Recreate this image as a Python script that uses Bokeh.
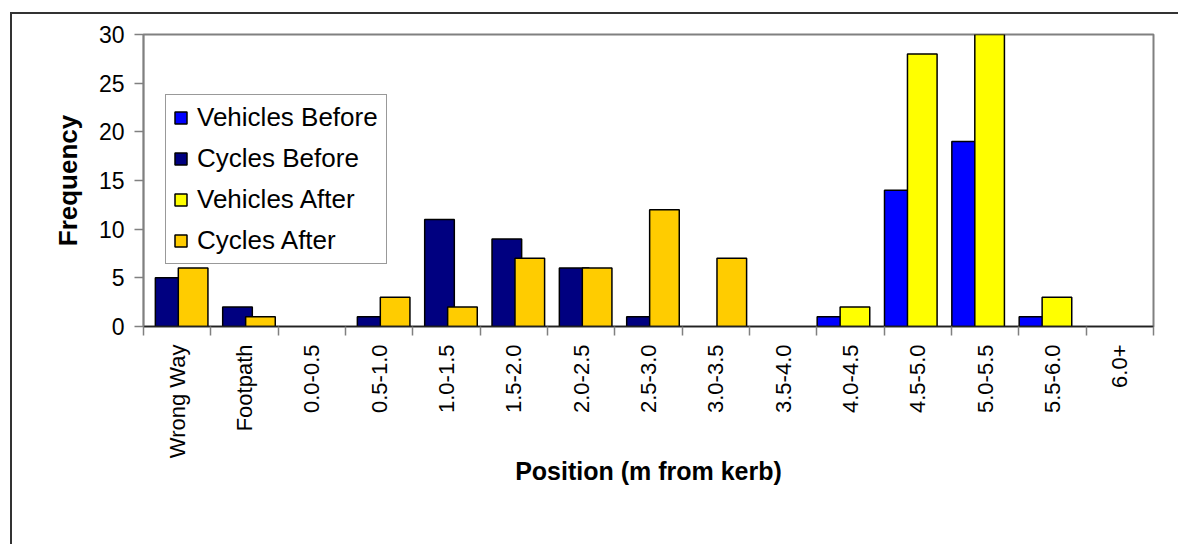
from bokeh.plotting import figure
from bokeh.models import (ColumnDataSource, Range1d, FixedTicker, Legend, LegendItem,
                          CDSView, BooleanFilter)
from bokeh.transform import dodge
from bokeh.embed import file_html
from bokeh.resources import INLINE
import math

categories = ["Wrong Way", "Footpath", "0.0-0.5", "0.5-1.0", "1.0-1.5", "1.5-2.0", "2.0-2.5",
              "2.5-3.0", "3.0-3.5", "3.5-4.0", "4.0-4.5", "4.5-5.0", "5.0-5.5", "5.5-6.0", "6.0+"]
vehicles_before = [0, 0, 0, 0, 0, 0, 0, 0, 0, 0, 1, 14, 19, 1, 0]
cycles_before = [5, 2, 0, 1, 11, 9, 6, 1, 0, 0, 0, 0, 0, 0, 0]
vehicles_after = [0, 0, 0, 0, 0, 0, 0, 0, 0, 0, 2, 28, 30, 3, 0]
cycles_after = [6, 1, 0, 3, 2, 7, 6, 12, 7, 0, 0, 0, 0, 0, 0]

series = [
    ("Vehicles Before", vehicles_before, "#0000FF", -0.275, "vb"),
    ("Cycles Before", cycles_before, "#000080", -0.104, "cb"),
    ("Vehicles After", vehicles_after, "#FFFF00", 0.066, "va"),
    ("Cycles After", cycles_after, "#FFCC00", 0.237, "ca"),
]

src = ColumnDataSource(dict(
    x=list(range(len(categories))),
    vb=vehicles_before, cb=cycles_before, va=vehicles_after, ca=cycles_after,
))

FONT = "Liberation Sans"

p = figure(width=1168, height=532, output_backend="svg", toolbar_location=None,
           x_range=Range1d(-0.5, len(categories) - 0.5), y_range=Range1d(0, 30),
           min_border_left=131, min_border_right=27, min_border_top=20, min_border_bottom=220)
# outer chart border: left and top edges
p.styles = {"border-left": "2px solid #333333", "border-top": "2px solid #333333",
            "margin-left": "10px", "margin-top": "12px"}

p.xgrid.visible = False
p.ygrid.visible = False
p.outline_line_color = "#808080"
p.outline_line_width = 2
p.background_fill_color = "white"
p.border_fill_color = "white"

renderers = []
for name, vals, color, off, col in series:
    view = CDSView(filter=BooleanFilter([v > 0 for v in vals]))
    r = p.vbar(x=dodge("x", off), top=col, width=0.44, bottom=0, source=src, view=view,
               fill_color=color, line_color="black", line_width=1.5)
    renderers.append((name, r))

# x axis
xa = p.xaxis[0]
xa.ticker = FixedTicker(ticks=list(range(len(categories))),
                        minor_ticks=[i - 0.5 for i in range(len(categories) + 1)])
xa.major_label_overrides = {i: c for i, c in enumerate(categories)}
xa.major_tick_in = 0
xa.major_tick_out = 0
xa.minor_tick_in = 0
xa.minor_tick_out = 9
xa.minor_tick_line_color = "#808080"
xa.minor_tick_line_width = 1.5
xa.axis_line_color = "#222222"
xa.axis_line_width = 1.5
xa.major_label_orientation = math.pi / 2
xa.major_label_text_font = FONT
xa.major_label_text_font_size = "22px"
xa.major_label_text_color = "black"
xa.major_label_standoff = 9
xa.axis_label = "Position (m from kerb)"
xa.axis_label_text_font = FONT
xa.axis_label_text_font_style = "bold"
xa.axis_label_text_font_size = "25px"
xa.axis_label_text_color = "black"
xa.axis_label_standoff = -4

# y axis
ya = p.yaxis[0]
ya.ticker = FixedTicker(ticks=[0, 5, 10, 15, 20, 25, 30])
ya.major_tick_in = 0
ya.major_tick_out = 9
ya.minor_tick_out = 0
ya.minor_tick_in = 0
ya.major_tick_line_color = "#808080"
ya.major_tick_line_width = 1.5
ya.axis_line_color = "#808080"
ya.axis_line_width = 1.5
ya.major_label_text_font = FONT
ya.major_label_text_font_size = "23px"
ya.major_label_text_color = "black"
ya.major_label_standoff = 10
ya.axis_label = "Frequency"
ya.axis_label_text_font = FONT
ya.axis_label_text_font_style = "bold"
ya.axis_label_text_font_size = "26px"
ya.axis_label_text_color = "black"
ya.axis_label_standoff = 13

legend = Legend(items=[LegendItem(label=n, renderers=[r]) for n, r in renderers],
                location=(22, 62), orientation="vertical")
legend.label_text_font = FONT
legend.label_text_font_size = "26px"
legend.label_text_color = "black"
legend.glyph_width = 15
legend.glyph_height = 15
legend.label_height = 22
legend.label_width = 182
legend.label_standoff = 9
legend.spacing = 10
legend.padding = 7
legend.margin = 0
legend.border_line_color = "#333333"
legend.border_line_width = 1.5
legend.background_fill_alpha = 1
p.add_layout(legend)

open("out.html", "w").write(file_html(p, INLINE))
